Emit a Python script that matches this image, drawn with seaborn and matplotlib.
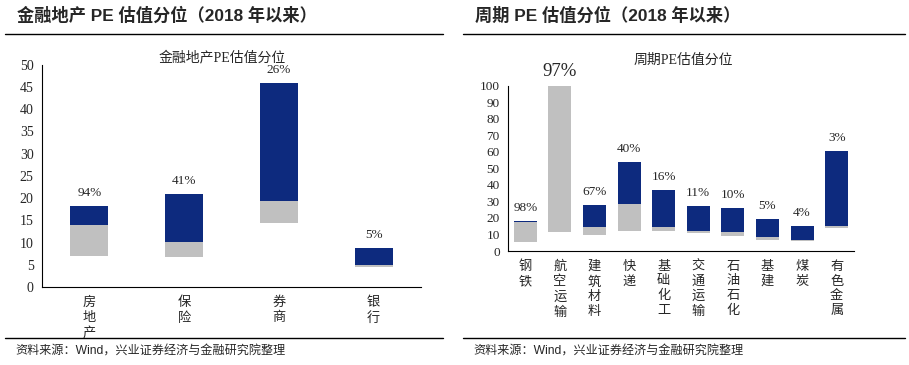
import matplotlib
matplotlib.use("Agg")
import matplotlib.pyplot as plt
import seaborn as sns
import numpy as np

# 金融地产: 区间最低 / 当前 / 区间最高 (PE)
fin_names = ["房地产", "保险", "券商", "银行"]
fin_low = [6.9, 6.7, 14.3, 4.5]
fin_now = [14.0, 10.2, 19.4, 4.9]
fin_high = [18.3, 21.0, 45.9, 8.8]
fin_pct = ["94%", "41%", "26%", "5%"]

# 周期
cyc_names = ["钢铁", "航空运输", "建筑材料", "快递", "基础化工",
             "交通运输", "石油石化", "基建", "煤炭", "有色金属"]
cyc_low = [5.4, 11.5, 9.7, 12.1, 12.1, 10.9, 9.1, 6.7, 6.0, 13.9]
cyc_now = [17.7, 100.0, 14.7, 28.4, 14.7, 12.1, 11.5, 8.5, 6.7, 15.3]
cyc_high = [18.1, 100.0, 27.8, 53.8, 36.9, 27.4, 26.2, 19.4, 15.3, 60.7]
cyc_pct = ["98%", "97%", "67%", "40%", "16%", "11%", "10%", "5%", "4%", "3%"]

NAVY = "#0d2a7e"
GRAY = "#c0c0c0"
SERIF = ["Liberation Serif", "Noto Sans CJK SC"]
SANS = ["Liberation Sans", "Noto Sans CJK SC"]

sns.set_theme(style="white")
plt.rcParams["font.family"] = SERIF

W, H = 909, 365
fig = plt.figure(figsize=(W / 100, H / 100), dpi=100)


def px_axes(x0, x1, ytop, ybot):
    return fig.add_axes([x0 / W, (H - ybot) / H, (x1 - x0) / W, (ybot - ytop) / H])


def draw_panel(ax, names, low, now, high, pct, ymax, ystep, width, ysize, big=None):
    low, now, high = np.array(low), np.array(now), np.array(high)
    labels = ["\n".join(n) for n in names]
    sns.barplot(x=labels, y=now - low, bottom=low, color=GRAY, width=width,
                saturation=1, ax=ax, linewidth=0)
    sns.barplot(x=labels, y=high - now, bottom=now, color=NAVY, width=width,
                saturation=1, ax=ax, linewidth=0)
    n = len(names)
    ax.set_xlim(-0.5, n - 0.5)
    ax.set_ylim(0, ymax)
    ax.set_yticks(np.arange(0, ymax + 1, ystep))
    for i, (h, p) in enumerate(zip(high, pct)):
        size = 13.5 if big == i else 9.5
        ax.annotate(p, (i, h), xytext=(0, 5 if big != i else 4), textcoords="offset points",
                    ha="center", va="bottom", fontsize=size, family=SERIF)
    ax.set_xticks(range(n))
    ax.set_xticklabels(labels, fontsize=9.5, family=SERIF, linespacing=1.3, va="top")
    ax.set_xticks(np.arange(0.5, n, 1), minor=True)
    ax.tick_params(axis="x", which="major", length=0, pad=7)
    ax.tick_params(axis="x", which="minor", direction="in", length=4, color="black", width=0.8)
    ax.tick_params(axis="y", direction="out", length=3, color="black", width=0.8,
                   labelsize=ysize, pad=3)
    for s in ["top", "right"]:
        ax.spines[s].set_visible(False)
    for s in ["left", "bottom"]:
        ax.spines[s].set_color("black")
        ax.spines[s].set_linewidth(0.8)
    ax.set_xlabel("")
    ax.set_ylabel("")
    return ax


ax1 = px_axes(42, 421, 64.7, 287)
draw_panel(ax1, fin_names, fin_low, fin_now, fin_high, fin_pct, 50, 5, 0.4, 10)
ax2 = px_axes(508, 854, 85.7, 251)
draw_panel(ax2, cyc_names, cyc_low, cyc_now, cyc_high, cyc_pct, 100, 10, 0.66, 9.5, big=1)

# chart titles
fig.text(222 / W, 1 - 57 / H, "金融地产PE估值分位", ha="center", va="center",
         fontsize=10, family=SERIF)
fig.text(683 / W, 1 - 60 / H, "周期PE估值分位", ha="center", va="center",
         fontsize=10, family=SERIF)

# panel headers, rules and sources
for x0, x1, head in [(5, 443, "金融地产 PE 估值分位（2018 年以来）"),
                     (463, 905, "周期 PE 估值分位（2018 年以来）")]:
    fig.text((x0 + 12) / W, 1 - 15 / H, head, ha="left", va="center",
             fontsize=12.4, fontweight="bold", family=SANS)
    fig.add_artist(plt.Line2D([x0 / W, x1 / W], [1 - 33.5 / H, 1 - 33.5 / H],
                              color="black", lw=1))
    fig.add_artist(plt.Line2D([x0 / W, x1 / W], [1 - 337.5 / H, 1 - 337.5 / H],
                              color="black", lw=1))
    fig.text((x0 + 10) / W, 1 - 352 / H, "资料来源：Wind，兴业证券经济与金融研究院整理",
             ha="left", va="center", fontsize=8.7, family=SANS)

fig.savefig("out.png", dpi=100)
